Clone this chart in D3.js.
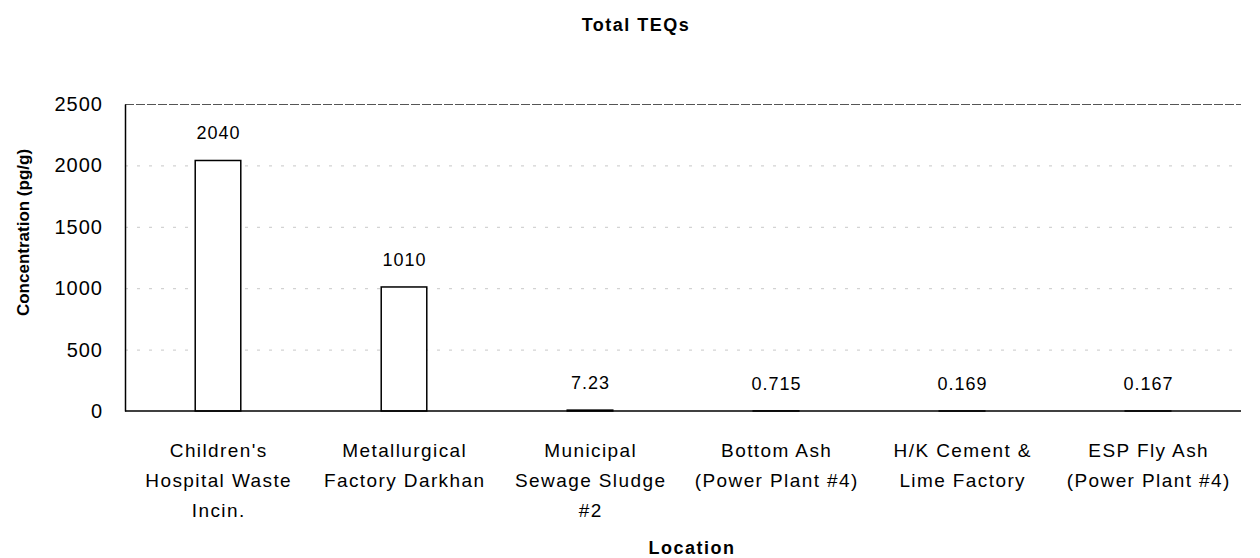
<!DOCTYPE html>
<html>
<head>
<meta charset="utf-8">
<script src="https://cdn.jsdelivr.net/npm/d3@7"></script>
<style>
  body { margin: 0; background: #fff; }
  svg text { font-family: "Liberation Sans", Arial, sans-serif; fill: #000; }
</style>
</head>
<body>
<div id="chart"></div>
<script>
// data
var locations = [
  ["Children's", "Hospital Waste", "Incin."],
  ["Metallurgical", "Factory Darkhan"],
  ["Municipal", "Sewage Sludge", "#2"],
  ["Bottom Ash", "(Power Plant #4)"],
  ["H/K Cement &", "Lime Factory"],
  ["ESP Fly Ash", "(Power Plant #4)"]
]
var teq = [2040, 1010, 7.23, 0.715, 0.169, 0.167]
var teqLabels = ["2040", "1010", "7.23", "0.715", "0.169", "0.167"]
var yTicks = [0, 500, 1000, 1500, 2000, 2500]

var W = 1260, H = 558
var margin = {top: 104, right: 19, bottom: 147, left: 125},
    width = W - margin.left - margin.right,
    height = H - margin.top - margin.bottom

var svg = d3.select("#chart").append("svg")
    .attr("width", W)
    .attr("height", H)

var g = svg.append("g")
    .attr("transform", "translate(" + margin.left + "," + margin.top + ")")

var idx = d3.range(teq.length)

var xScale = d3.scaleBand()
    .domain(idx)
    .range([0, 6 * 186])
    .padding(0)

var yScale = d3.scaleLinear()
    .domain([0, 2500])
    .range([height, 0])

var barW = xScale.bandwidth() * 0.245

// faint gridlines
g.selectAll(".grid")
    .data(yTicks.filter(function(d){ return d > 0 && d < 2500 }))
    .enter().append("line")
    .attr("class", "grid")
    .attr("x1", 0)
    .attr("x2", width)
    .attr("y1", function(d){ return yScale(d) + 0.5 })
    .attr("y2", function(d){ return yScale(d) + 0.5 })
    .attr("stroke", "#c8c8c8")
    .attr("stroke-dasharray", "3,9")

// top border
g.append("line")
    .attr("x1", 0).attr("x2", width)
    .attr("y1", yScale(2500) + 0.5).attr("y2", yScale(2500) + 0.5)
    .attr("stroke", "#555")
    .attr("stroke-dasharray", "9,2")

// bars
g.selectAll(".bar")
    .data(idx)
    .enter().append("rect")
    .attr("class", "bar")
    .attr("x", function(i){ return xScale(i) + xScale.bandwidth() / 2 - barW / 2 })
    .attr("width", barW)
    .attr("y", function(i){ return yScale(teq[i]) })
    .attr("height", function(i){ return height - yScale(teq[i]) })
    .attr("fill", "#fff")
    .attr("stroke", "#000")
    .attr("stroke-width", 1.5)

// value labels
g.selectAll(".val")
    .data(idx)
    .enter().append("text")
    .attr("class", "val")
    .attr("x", function(i){ return xScale(i) + xScale.bandwidth() / 2 + 0.5 })
    .attr("y", function(i){ return yScale(teq[i]) - 21 })
    .attr("text-anchor", "middle")
    .attr("font-size", "18px")
    .attr("letter-spacing", "1px")
    .text(function(i){ return teqLabels[i] })

// y axis
var yAxis = g.append("g")
    .call(d3.axisLeft(yScale).tickValues(yTicks).tickSize(0).tickPadding(22).tickFormat(d3.format("d")))
yAxis.select(".domain").attr("stroke", "#000").attr("stroke-width", 1.5)
yAxis.selectAll("text")
    .attr("font-size", "20px")
    .attr("letter-spacing", "1px")
    .attr("font-family", "Liberation Sans, Arial, sans-serif")

// x axis line
g.append("line")
    .attr("x1", 0).attr("x2", width)
    .attr("y1", height).attr("y2", height)
    .attr("stroke", "#000")
    .attr("stroke-width", 1.5)

// category labels
var cats = g.selectAll(".cat")
    .data(idx)
    .enter().append("text")
    .attr("class", "cat")
    .attr("text-anchor", "middle")
    .attr("font-size", "19px")
    .attr("letter-spacing", "1.4px")
    .attr("transform", function(i){
        return "translate(" + (xScale(i) + xScale.bandwidth() / 2 + 0.7) + "," + (height + 46) + ")"
    })

cats.selectAll("tspan")
    .data(function(i){ return locations[i] })
    .enter().append("tspan")
    .attr("x", 0)
    .attr("y", function(d, k){ return k * 30 })
    .text(function(d){ return d })

// titles
svg.append("text")
    .attr("x", 636)
    .attr("y", 31)
    .attr("text-anchor", "middle")
    .attr("font-size", "18px")
    .attr("letter-spacing", "1.5px")
    .attr("font-weight", "bold")
    .text("Total TEQs")

svg.append("text")
    .attr("transform", "translate(29," + (margin.top + height / 2 - 25) + ") rotate(-90)")
    .attr("text-anchor", "middle")
    .attr("font-size", "17px")
    .attr("font-weight", "bold")
    .text("Concentration (pg/g)")

svg.append("text")
    .attr("x", 692)
    .attr("y", 554)
    .attr("text-anchor", "middle")
    .attr("font-size", "18px")
    .attr("letter-spacing", "1.5px")
    .attr("font-weight", "bold")
    .text("Location")
</script>
</body>
</html>
